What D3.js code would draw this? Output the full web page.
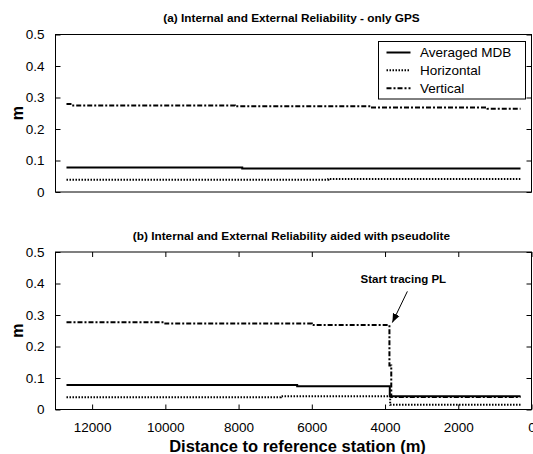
<!DOCTYPE html>
<html><head><meta charset="utf-8">
<script src="https://cdn.jsdelivr.net/npm/d3@7"></script>
<style>
html,body{margin:0;padding:0;background:#fff;}
svg{display:block;font-family:"Liberation Sans",Arial,sans-serif;}
</style></head>
<body>
<svg id="chart" width="533" height="454"></svg>
<script>
// ---------- data ----------
const seriesNames = ["Averaged MDB", "Horizontal", "Vertical"];
const yTicks = [0, 0.1, 0.2, 0.3, 0.4, 0.5];
const yTickLabels = ["0", "0.1", "0.2", "0.3", "0.4", "0.5"];
const xTicks = [12000, 10000, 8000, 6000, 4000, 2000, 0];
const xTickLabels = ["12000", "10000", "8000", "6000", "4000", "2000", "0"];

// Panel (a) only GPS
const aMdbDist = [12700, 7900, 7900, 300];
const aMdbVal  = [0.078, 0.078, 0.075, 0.075];
const aHorDist = [12700, 5550, 5550, 300];
const aHorVal  = [0.039, 0.039, 0.041, 0.041];
const aVerDist = [12700, 12550, 12550, 8100, 8100, 4400, 4400, 1200, 1200, 300];
const aVerVal  = [0.279, 0.279, 0.275, 0.275, 0.272, 0.272, 0.268, 0.268, 0.264, 0.264];

// Panel (b) aided with pseudolite
const bMdbDist = [12700, 6400, 6400, 3870, 3870, 300];
const bMdbVal  = [0.078, 0.078, 0.074, 0.074, 0.042, 0.042];
const bHorDist = [12700, 6850, 6850, 3860, 3860, 300];
const bHorVal  = [0.039, 0.039, 0.042, 0.042, 0.015, 0.015];
const bVerDist = [12700, 10000, 10000, 6000, 6000, 3880, 3880, 3830, 3830, 300];
const bVerVal  = [0.277, 0.277, 0.273, 0.273, 0.268, 0.268, 0.14, 0.14, 0.040, 0.040];

const titleA = "(a) Internal and External Reliability - only GPS";
const titleB = "(b) Internal and External Reliability aided with pseudolite";
const xLabel = "Distance to reference station (m)";
const yLabel = "m";
const annText = "Start tracing PL";
const annTextPos = [3500, 0.402];
const annArrowFrom = [3390, 0.375];
const annArrowTo = [3800, 0.276];

// ---------- layout ----------
const svg = d3.select("#chart");
const L = 55.5, R = 531.5;
const panels = [
  {top: 34.5, bottom: 192, title: titleA, xt: false,
   series: [[aMdbDist, aMdbVal], [aHorDist, aHorVal], [aVerDist, aVerVal]]},
  {top: 252, bottom: 409.5, title: titleB, xt: true,
   series: [[bMdbDist, bMdbVal], [bHorDist, bHorVal], [bVerDist, bVerVal]]}
];
const styles = [
  {dash: null, w: 2},
  {dash: "1.5,1.5", w: 2},
  {dash: "5,2,2,2", w: 2}
];
const x = d3.scaleLinear().domain([13000, 0]).range([L, R]);
const tickLen = 5;
const fs = "13.5px";

svg.append("defs").append("marker")
  .attr("id", "ah").attr("viewBox", "0 0 10 10").attr("refX", 10).attr("refY", 5)
  .attr("markerWidth", 9).attr("markerHeight", 9).attr("markerUnits", "userSpaceOnUse")
  .attr("orient", "auto")
  .append("path").attr("d", "M0,1 L10,5 L0,9 Z").attr("fill", "#000");

panels.forEach((p, pi) => {
  const y = d3.scaleLinear().domain([0, 0.5]).range([p.bottom, p.top]);
  const g = svg.append("g");

  // lines
  p.series.forEach((s, si) => {
    const pts = s[0].map((d, i) => [d, s[1][i]]);
    const line = d3.line().x(d => x(d[0])).y(d => y(d[1]));
    const path = g.append("path").datum(pts).attr("d", line)
      .attr("fill", "none").attr("stroke", "#000")
      .attr("stroke-width", styles[si].w);
    if (styles[si].dash) path.attr("stroke-dasharray", styles[si].dash);
  });

  // frame
  g.append("rect").attr("x", L).attr("y", p.top)
    .attr("width", R - L).attr("height", p.bottom - p.top)
    .attr("fill", "none").attr("stroke", "#000").attr("stroke-width", 1);

  const yAxisL = d3.axisLeft(y).tickValues(yTicks)
    .tickFormat((d, i) => yTickLabels[i]).tickSizeInner(-tickLen).tickSizeOuter(0).tickPadding(6 + tickLen);
  const ga = g.append("g").attr("transform", `translate(${L},0)`).call(yAxisL);
  ga.select(".domain").remove();
  ga.selectAll("text").attr("font-size", fs).attr("font-family", "Liberation Sans, Arial, sans-serif").attr("fill", "#000");
  ga.selectAll("line").attr("stroke", "#000");

  const yAxisR = d3.axisRight(y).tickValues(yTicks).tickFormat("").tickSizeInner(-tickLen).tickSizeOuter(0);
  const gr = g.append("g").attr("transform", `translate(${R},0)`).call(yAxisR);
  gr.select(".domain").remove();
  gr.selectAll("line").attr("stroke", "#000");

  if (p.xt) {
    const xb = d3.axisBottom(x).tickValues(xTicks).tickFormat((d, i) => xTickLabels[i])
      .tickSizeInner(-tickLen).tickSizeOuter(0).tickPadding(8 + tickLen);
    const gb = g.append("g").attr("transform", `translate(0,${p.bottom})`).call(xb);
    gb.select(".domain").remove();
    gb.selectAll("text").attr("font-size", fs).attr("font-family", "Liberation Sans, Arial, sans-serif").attr("fill", "#000");
    gb.selectAll("line").attr("stroke", "#000");
    const xt = d3.axisTop(x).tickValues(xTicks).tickFormat("").tickSizeInner(-tickLen).tickSizeOuter(0);
    const gt = g.append("g").attr("transform", `translate(0,${p.top})`).call(xt);
    gt.select(".domain").remove();
    gt.selectAll("line").attr("stroke", "#000");
  }

  // title
  svg.append("text").attr("x", (L + R) / 2 - 2).attr("y", p.top - 12.5)
    .attr("text-anchor", "middle").attr("font-size", "11.8px").attr("font-weight", "bold")
    .text(p.title);

  // y label
  svg.append("text")
    .attr("transform", `translate(23,${(p.top + p.bottom) / 2}) rotate(-90)`)
    .attr("text-anchor", "middle").attr("font-size", "16px").attr("font-weight", "bold")
    .text(yLabel);

  if (pi === 0) {
    const lg = svg.append("g");
    lg.append("rect").attr("x", 378.5).attr("y", 41.5).attr("width", 147).attr("height", 57.5)
      .attr("fill", "#fff").attr("stroke", "#000").attr("stroke-width", 1);
    const rowY = [52.5, 70.3, 88.2];
    seriesNames.forEach((n, i) => {
      const l = lg.append("line").attr("x1", 386.5).attr("x2", 410.5)
        .attr("y1", rowY[i]).attr("y2", rowY[i])
        .attr("stroke", "#000").attr("stroke-width", styles[i].w);
      if (styles[i].dash) l.attr("stroke-dasharray", styles[i].dash);
      lg.append("text").attr("x", 420).attr("y", rowY[i]).attr("dy", "0.36em")
        .attr("font-size", fs).text(n);
    });
  } else {
    svg.append("text").attr("x", x(annTextPos[0])).attr("y", y(annTextPos[1]))
      .attr("text-anchor", "middle").attr("font-size", "11.5px").attr("font-weight", "bold")
      .text(annText);
    svg.append("line")
      .attr("x1", x(annArrowFrom[0])).attr("y1", y(annArrowFrom[1]))
      .attr("x2", x(annArrowTo[0])).attr("y2", y(annArrowTo[1]))
      .attr("stroke", "#000").attr("stroke-width", 1).attr("marker-end", "url(#ah)");
  }
});

// x label
svg.append("text").attr("x", (L + R) / 2 + 4).attr("y", 451.5)
  .attr("text-anchor", "middle").attr("font-size", "16.5px").attr("font-weight", "bold")
  .text(xLabel);
</script>
</body></html>
